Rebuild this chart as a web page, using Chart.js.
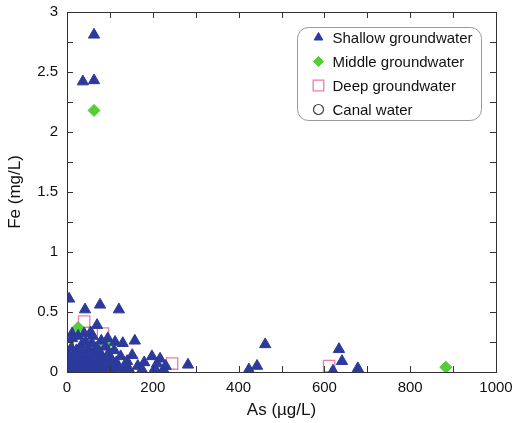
<!DOCTYPE html>
<html>
<head>
<meta charset="utf-8">
<script src="https://cdn.jsdelivr.net/npm/chart.js@4/dist/chart.umd.min.js"></script>
<style>
  html, body { margin: 0; padding: 0; background: #fff; }
  #wrap { width: 513px; height: 423px; }
</style>
</head>
<body>
<div id="wrap"><canvas id="myChart"></canvas></div>
<script>
// Fe vs As, muestras por tipo de agua
const shallowAs = [63, 37, 63, 5, 42, 77, 121, 70, 12, 40, 55, 130, 158, 152, 198, 217, 282, 462, 424, 443, 634, 641, 620, 678,
    2, 5, 8, 3, 10, 15, 18, 20, 22, 25, 28, 30, 33, 35, 38, 40, 43, 45, 48, 50, 52, 55, 58, 60, 62, 65, 68, 70, 72, 75,
    78, 80, 82, 85, 88, 90, 93, 96, 100, 103, 106, 110, 115, 120, 125, 135, 140, 145, 165, 175, 180, 205, 210, 225, 230,
    12, 26, 60, 95, 112];
const shallowFe = [2.81, 2.42, 2.43, 0.61, 0.52, 0.56, 0.52, 0.39, 0.32, 0.32, 0.33, 0.24, 0.26, 0.14, 0.13, 0.11, 0.06, 0.23, 0.02, 0.05, 0.19, 0.09, 0.01, 0.03,
    0.02, 0.05, 0.10, 0.15, 0.20, 0.03, 0.08, 0.13, 0.18, 0.01, 0.06, 0.11, 0.22, 0.16, 0.03, 0.09, 0.25, 0.14, 0.05, 0.19, 0.01, 0.10, 0.24, 0.15, 0.04, 0.08, 0.20, 0.12, 0.02, 0.17,
    0.07, 0.26, 0.13, 0.03, 0.10, 0.21, 0.06, 0.15, 0.02, 0.11, 0.05, 0.18, 0.08, 0.03, 0.13, 0.04, 0.09, 0.02, 0.05, 0.02, 0.08, 0.03, 0.07, 0.02, 0.05,
    0.28, 0.30, 0.30, 0.28, 0.25];

const middleAs = [63, 26, 96, 54, 883, 30, 45, 75, 20];
const middleFe = [2.18, 0.37, 0.24, 0.00, 0.04, 0.12, 0.05, 0.20, 0.08];

const deepAs = [40, 84, 245, 611];
const deepFe = [0.42, 0.32, 0.07, 0.05];

const canalAs = [3, 3];
const canalFe = [0.23, 0.16];

const xTicks = [0, 200, 400, 600, 800, 1000];
const yTicks = [0, 0.5, 1, 1.5, 2, 2.5, 3];

function puntos(xs, ys) {
    return xs.map((x, i) => ({ x: x, y: ys[i] }));
}

const FONT = 'Liberation Sans, Arial, Helvetica, sans-serif';

// marco y marcas hacia adentro en los cuatro lados
const marcoPlugin = {
    id: 'marco',
    afterDraw(chart) {
        const ctx = chart.ctx;
        const a = chart.chartArea;
        const xs = chart.scales.x, ys = chart.scales.y;
        ctx.save();
        ctx.strokeStyle = '#333';
        ctx.lineWidth = 1;
        ctx.strokeRect(a.left + 0.5, a.top + 0.5, a.right - a.left, a.bottom - a.top);
        ctx.beginPath();
        for (let v = 100; v < 1000; v += 100) {
            const px = Math.round(xs.getPixelForValue(v)) + 0.5;
            ctx.moveTo(px, a.bottom); ctx.lineTo(px, a.bottom - 6);
            ctx.moveTo(px, a.top); ctx.lineTo(px, a.top + 6);
        }
        for (let v = 0.25; v < 3; v += 0.25) {
            const py = Math.round(ys.getPixelForValue(v)) + 0.5;
            ctx.moveTo(a.left, py); ctx.lineTo(a.left + 6, py);
            ctx.moveTo(a.right, py); ctx.lineTo(a.right - 6, py);
        }
        ctx.stroke();
        ctx.restore();
    }
};

// leyenda dentro del area del grafico
const leyendaPlugin = {
    id: 'leyenda',
    afterDraw(chart) {
        const ctx = chart.ctx;
        const left = 297.5, top = 27.5;
        const w = 184, h = 93;
        ctx.save();
        ctx.strokeStyle = '#999';
        ctx.lineWidth = 1;
        ctx.fillStyle = '#fff';
        ctx.beginPath();
        ctx.roundRect(left, top, w, h, 11);
        ctx.fill();
        ctx.stroke();
        ctx.font = '15px ' + FONT;
        ctx.textBaseline = 'middle';
        chart.data.datasets.forEach((ds, i) => {
            const cy = top + 10 + i * 24;
            ctx.fillStyle = ds.backgroundColor;
            ctx.strokeStyle = ds.borderColor;
            ctx.lineWidth = ds.borderWidth;
            Chart.helpers.drawPoint(ctx, {
                pointStyle: ds.pointStyle,
                radius: ds.pointStyle === 'rect' ? 7.5 : 5,
                borderWidth: ds.borderWidth
            }, left + 21, cy);
            ctx.fillStyle = '#111';
            ctx.fillText(ds.label, left + 35, cy + 1);
        });
        ctx.restore();
    }
};

const ctx = document.getElementById('myChart').getContext('2d');
const myChart = new Chart(ctx, {
    type: 'scatter',
    data: {
        datasets: [
            {
                label: 'Shallow groundwater',
                data: puntos(shallowAs, shallowFe),
                pointStyle: 'triangle',
                pointRadius: 6.5,
                backgroundColor: '#2b3a9b',
                borderColor: '#2b3a9b',
                borderWidth: 1
            },
            {
                label: 'Middle groundwater',
                data: puntos(middleAs, middleFe),
                pointStyle: 'rectRot',
                pointRadius: 6,
                backgroundColor: '#55cc38',
                borderColor: '#55cc38',
                borderWidth: 1
            },
            {
                label: 'Deep groundwater',
                data: puntos(deepAs, deepFe),
                pointStyle: 'rect',
                pointRadius: 8,
                backgroundColor: 'rgba(0,0,0,0)',
                borderColor: '#f07aa8',
                borderWidth: 1.3
            },
            {
                label: 'Canal water',
                data: puntos(canalAs, canalFe),
                pointStyle: 'circle',
                pointRadius: 5,
                backgroundColor: 'rgba(0,0,0,0)',
                borderColor: '#444',
                borderWidth: 1.2
            }
        ]
    },
    options: {
        responsive: true,
        maintainAspectRatio: false,
        animation: false,
        layout: { padding: { top: 12, right: 17, left: 0, bottom: 0 } },
        scales: {
            x: {
                type: 'linear',
                min: 0,
                max: 1000,
                afterBuildTicks: (s) => { s.ticks = xTicks.map(v => ({ value: v })); },
                afterFit: (s) => { s.height = 51; s.paddingLeft = 0; s.paddingRight = 0; },
                grid: { display: false, drawTicks: false },
                border: { display: false },
                ticks: { color: '#111', font: { family: FONT, size: 15 }, padding: 7, maxRotation: 0, callback: (v) => String(v) },
                title: { display: true, text: 'As (\u00b5g/L)', color: '#111', font: { family: FONT, size: 17 }, padding: { top: 0, bottom: 2 } }
            },
            y: {
                type: 'linear',
                min: 0,
                max: 3,
                afterBuildTicks: (s) => { s.ticks = yTicks.map(v => ({ value: v })); },
                afterFit: (s) => { s.width = 67; s.paddingTop = 0; s.paddingBottom = 0; },
                grid: { display: false, drawTicks: false },
                border: { display: false },
                ticks: { color: '#111', font: { family: FONT, size: 15 }, padding: 9, callback: (v) => String(v) },
                title: { display: true, text: 'Fe (mg/L)', color: '#111', font: { family: FONT, size: 17 }, padding: { top: 5, bottom: 4 } }
            }
        },
        plugins: {
            legend: { display: false },
            tooltip: { enabled: false }
        }
    },
    plugins: [marcoPlugin, leyendaPlugin]
});
</script>
</body>
</html>
